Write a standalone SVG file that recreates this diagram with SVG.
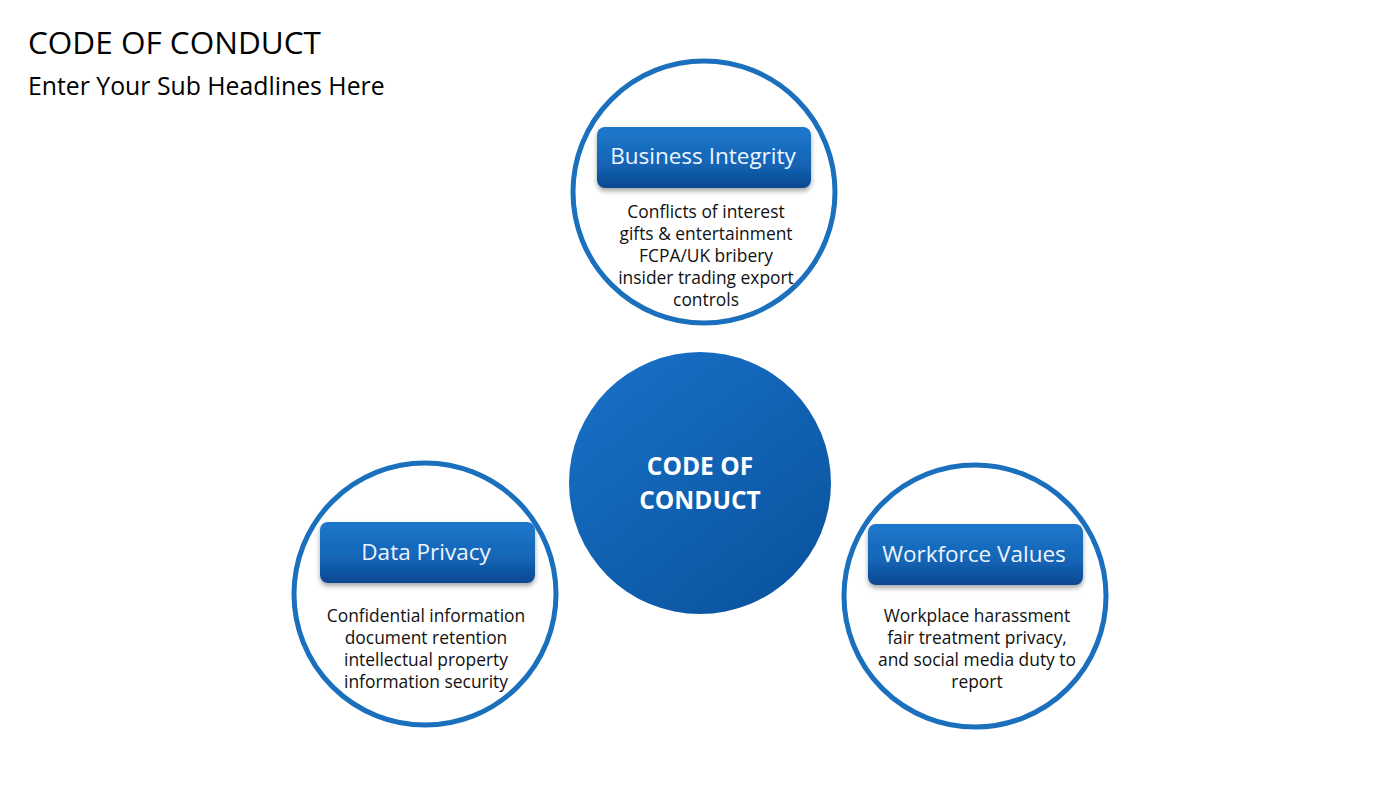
<svg xmlns="http://www.w3.org/2000/svg" width="1400" height="788" viewBox="0 0 1400 788">
<style>
.ring{fill:#fff;stroke:#1a70bd;stroke-width:5}
.box{fill:url(#boxg);filter:url(#sh)}
.lbl{font-family:"Open Sans","Noto Sans",sans-serif;font-size:22.5px;fill:#eef5ff;text-anchor:middle}
.body{font-family:"Open Sans","Noto Sans",sans-serif;font-size:17.4px;fill:#111;text-anchor:middle}
.ctr{font-family:"Open Sans","Noto Sans",sans-serif;font-size:24.5px;font-weight:bold;fill:#fff;text-anchor:middle}
.title{font-family:"Open Sans","Noto Sans",sans-serif;fill:#000}
</style>
<defs>
<linearGradient id="boxg" x1="0" y1="0" x2="0" y2="1">
<stop offset="0" stop-color="#1f78cc"/>
<stop offset="0.6" stop-color="#1464b6"/>
<stop offset="1" stop-color="#0a4890"/>
</linearGradient>
<linearGradient id="cg" x1="0.2" y1="0.1" x2="0.85" y2="0.95">
<stop offset="0" stop-color="#176dc3"/>
<stop offset="1" stop-color="#0a549f"/>
</linearGradient>
<filter id="sh" x="-10%" y="-20%" width="120%" height="150%">
<feDropShadow dx="0" dy="3" stdDeviation="2.5" flood-color="#000" flood-opacity="0.35"/>
</filter>
</defs>
<rect width="1400" height="788" fill="#fff"/>
<text class="title" x="28" y="54" font-size="31.5">CODE OF CONDUCT</text>
<text class="title" x="28" y="95" font-size="24.8">Enter Your Sub Headlines Here</text>
<g id="connectors"></g>
<g id="node-center">
<circle cx="700" cy="483" r="131" fill="url(#cg)"/>
<text class="ctr" x="700" y="475">CODE OF</text>
<text class="ctr" x="700" y="509">CONDUCT</text>
</g>
<g id="node-business">
<circle class="ring" cx="704" cy="192" r="131"/>
<rect class="box" x="597" y="127" width="214" height="61" rx="8"/>
<text class="lbl" x="703" y="164">Business Integrity</text>
<text class="body" x="706" y="218">Conflicts of interest</text>
<text class="body" x="706" y="240">gifts &amp; entertainment</text>
<text class="body" x="706" y="262">FCPA/UK bribery</text>
<text class="body" x="706" y="284">insider trading export</text>
<text class="body" x="706" y="306">controls</text>
</g>
<g id="node-data">
<circle class="ring" cx="425" cy="594" r="131"/>
<rect class="box" x="320" y="522" width="215" height="61" rx="8"/>
<text class="lbl" x="426" y="560">Data Privacy</text>
<text class="body" x="426" y="622">Confidential information</text>
<text class="body" x="426" y="644">document retention</text>
<text class="body" x="426" y="666">intellectual property</text>
<text class="body" x="426" y="688">information security</text>
</g>
<g id="node-workforce">
<circle class="ring" cx="975" cy="596" r="131"/>
<rect class="box" x="868" y="524" width="215" height="61" rx="8"/>
<text class="lbl" x="974" y="562">Workforce Values</text>
<text class="body" x="977" y="622">Workplace harassment</text>
<text class="body" x="977" y="644">fair treatment privacy,</text>
<text class="body" x="977" y="666">and social media duty to</text>
<text class="body" x="977" y="688">report</text>
</g>
</svg>
